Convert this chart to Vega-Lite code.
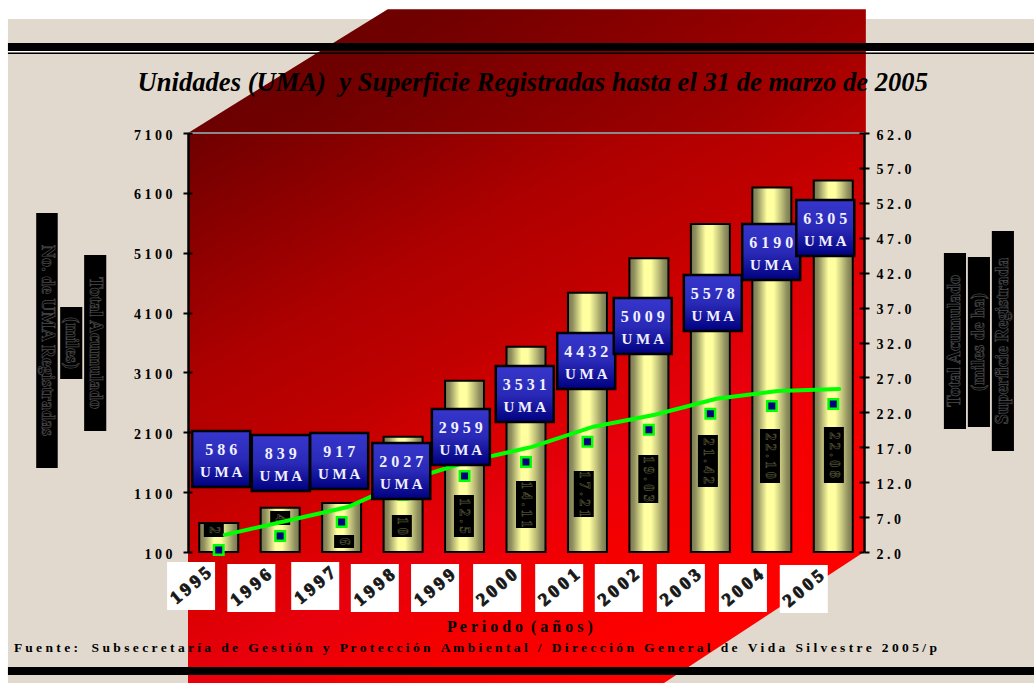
{"$schema":"https://vega.github.io/schema/vega-lite/v6.json","width":676,"height":419,"autosize":"none","padding":{"left":188,"top":133,"right":170,"bottom":131},"background":"white","config":{"view":{"stroke":null},"axis":{"grid":false,"title":null},"text":{"font":"Liberation Serif","fontWeight":"bold"}},
"datasets":{
"anual":[
{"anio":1995,"anio_t":"1\u20099\u20099\u20095","uma":586,"sup":2.3,"etq":"5 8 6","etq_x":1995.04,"etq_y":1654,"sup_t":"2","sup_x":1994.92,"sup_y0":584,"sup_y1":351,"sup_ym":468,"anio_x":1994.55,"anio_y":-468},
{"anio":1996,"anio_t":"1\u20099\u20099\u20096","uma":839,"sup":4.3,"etq":"8 3 9","etq_x":1996.01,"etq_y":1587,"sup_t":"4","sup_x":1996.0,"sup_y0":785,"sup_y1":551,"sup_ym":668,"anio_x":1995.53,"anio_y":-501},
{"anio":1997,"anio_t":"1\u20099\u20099\u20097","uma":917,"sup":6.3,"etq":"9 1 7","etq_x":1996.96,"etq_y":1620,"sup_t":"6","sup_x":1997.04,"sup_y0":384,"sup_y1":167,"sup_ym":276,"anio_x":1996.57,"anio_y":-468},
{"anio":1998,"anio_t":"1\u20099\u20099\u20098","uma":2027,"sup":10.2,"etq":"2 0 2 7","etq_x":1997.97,"etq_y":1453,"sup_t":"1 0","sup_x":1997.98,"sup_y0":718,"sup_y1":351,"sup_ym":534,"anio_x":1997.54,"anio_y":-501},
{"anio":1999,"anio_t":"1\u20099\u20099\u20099","uma":2959,"sup":12.9,"etq":"2 9 5 9","etq_x":1998.94,"etq_y":2021,"sup_t":"1 2 . 5","sup_x":1998.99,"sup_y0":1052,"sup_y1":351,"sup_ym":701,"anio_x":1998.52,"anio_y":-501},
{"anio":2000,"anio_t":"2\u20090\u20090\u20090","uma":3531,"sup":14.9,"etq":"3 5 3 1","etq_x":1999.98,"etq_y":2740,"sup_t":"1 4 . 1 1","sup_x":2000.0,"sup_y0":1286,"sup_y1":501,"sup_ym":893,"anio_x":1999.53,"anio_y":-501},
{"anio":2001,"anio_t":"2\u20090\u20090\u20091","uma":4432,"sup":17.8,"etq":"4 4 3 2","etq_x":2000.98,"etq_y":3291,"sup_t":"1 7 . 2 1","sup_x":2000.94,"sup_y0":1453,"sup_y1":685,"sup_ym":1069,"anio_x":2000.54,"anio_y":-501},
{"anio":2002,"anio_t":"2\u20090\u20090\u20092","uma":5009,"sup":19.5,"etq":"5 0 0 9","etq_x":2001.9,"etq_y":3876,"sup_t":"1 9 . 0 3","sup_x":2001.99,"sup_y0":1720,"sup_y1":919,"sup_ym":1320,"anio_x":2001.51,"anio_y":-501},
{"anio":2003,"anio_t":"2\u20090\u20090\u20093","uma":5578,"sup":21.8,"etq":"5 5 7 8","etq_x":2003.04,"etq_y":4260,"sup_t":"2 1 . 4 2","sup_x":2002.96,"sup_y0":2055,"sup_y1":1186,"sup_ym":1620,"anio_x":2002.52,"anio_y":-501},
{"anio":2004,"anio_t":"2\u20090\u20090\u20094","uma":6190,"sup":22.9,"etq":"6 1 9 0","etq_x":2003.99,"etq_y":5112,"sup_t":"2 2 . 1 0","sup_x":2003.97,"sup_y0":2155,"sup_y1":1253,"sup_ym":1704,"anio_x":2003.53,"anio_y":-501},
{"anio":2005,"anio_t":"2\u20090\u20090\u20095","uma":6305,"sup":23.2,"etq":"6 3 0 5","etq_x":2004.87,"etq_y":5513,"sup_t":"2 2 . 0 8","sup_x":2005.01,"sup_y0":2188,"sup_y1":1253,"sup_ym":1720,"anio_x":2004.52,"anio_y":-518}
],
"titulos":[
{"t":"No. de UMA Registradas","lado":"izq","x0":1992.03,"x1":1992.38,"xm":1992.205,"y0":5763,"y1":1503,"ym":3633},
{"t":"(miles)","lado":"izq","x0":1992.42,"x1":1992.78,"xm":1992.6,"y0":4193,"y1":2990,"ym":3591},
{"t":"Total Acumulado","lado":"izq","x0":1992.81,"x1":1993.17,"xm":1992.99,"y0":5062,"y1":2121,"ym":3591},
{"t":"Total Acumulado","lado":"der","x0":2006.8,"x1":2007.16,"xm":2006.98,"y0":5095,"y1":2155,"ym":3625},
{"t":"(miles de ha)","lado":"der","x0":2007.19,"x1":2007.55,"xm":2007.37,"y0":5028,"y1":2188,"ym":3608},
{"t":"Superficie Registrada","lado":"der","x0":2007.58,"x1":2007.94,"xm":2007.76,"y0":5463,"y1":1787,"ym":3625}
]},
"layer":[
{"data":{"values":[{"x0":1991.57,"x1":2008.3,"y0":9004,"y1":-2200}]},"mark":{"type":"rect","color":"#e1d9cd"},
"encoding":{"x":{"field":"x0","type":"quantitative","axis":null,"scale":{"domain":[1994.5,2005.5],"nice":false,"zero":false}},"x2":{"field":"x1"},"y":{"field":"y0","type":"quantitative","axis":null,"scale":{"domain":[100,7100],"nice":false,"zero":false}},"y2":{"field":"y1"}}},
{"data":{"values":[{"x0":1991.57,"x1":2008.3,"y0":8470,"y1":8445}]},"mark":{"type":"rect","color":"#ffffff"},
"encoding":{"x":{"field":"x0","type":"quantitative","axis":null,"scale":{"domain":[1994.5,2005.5],"nice":false,"zero":false}},"x2":{"field":"x1"},"y":{"field":"y0","type":"quantitative","axis":null,"scale":{"domain":[100,7100],"nice":false,"zero":false}},"y2":{"field":"y1"}}},
{"data":{"values":[{"x":1994.5,"top":7100,"base":7100},{"x":1997.75,"top":9168,"base":7100},{"x":2005.53,"top":9168,"base":7100}]},
"mark":{"type":"area","orient":"vertical","line":false,"color":{"gradient":"linear","x1":0,"y1":0,"x2":1.18,"y2":0.29,"stops":[{"offset":0,"color":"#640000"},{"offset":0.3,"color":"#700000"},{"offset":0.8,"color":"#9f0000"},{"offset":1,"color":"#bb0000"}]}},
"encoding":{"x":{"field":"x","type":"quantitative","axis":null,"scale":{"domain":[1994.5,2005.5],"nice":false,"zero":false}},"y":{"field":"top","type":"quantitative","axis":null,"scale":{"domain":[100,7100],"nice":false,"zero":false}},"y2":{"field":"base"}}},
{"data":{"values":[{"x":1994.5,"top":7100,"base":-2200},{"x":2002.08,"top":7100,"base":-2200},{"x":2005.5,"top":7100,"base":100}]},
"mark":{"type":"area","orient":"vertical","line":false,"color":{"gradient":"linear","x1":0,"y1":0,"x2":0.77,"y2":1.15,"stops":[{"offset":0,"color":"#6e0000"},{"offset":0.27,"color":"#ae0000"},{"offset":0.4,"color":"#c00000"},{"offset":0.5,"color":"#d80000"},{"offset":0.6,"color":"#e8000c"},{"offset":0.7,"color":"#f40000"},{"offset":0.85,"color":"#ff0000"},{"offset":1,"color":"#ff0000"}]}},
"encoding":{"x":{"field":"x","type":"quantitative","axis":null,"scale":{"domain":[1994.5,2005.5],"nice":false,"zero":false}},"y":{"field":"top","type":"quantitative","axis":null,"scale":{"domain":[100,7100],"nice":false,"zero":false}},"y2":{"field":"base"}}},
{"data":{"values":[{"x0":1991.57,"x1":2008.3,"y0":8603,"y1":8470},{"x0":1991.57,"x1":2008.3,"y0":8445,"y1":8420},{"x0":1991.57,"x1":2008.3,"y0":-1821,"y1":-1955}]},"mark":{"type":"rect","color":"#000000"},
"encoding":{"x":{"field":"x0","type":"quantitative","axis":null,"scale":{"domain":[1994.5,2005.5],"nice":false,"zero":false}},"x2":{"field":"x1"},"y":{"field":"y0","type":"quantitative","axis":null,"scale":{"domain":[100,7100],"nice":false,"zero":false}},"y2":{"field":"y1"}}},
{"data":{"values":[{"x0":1994.5,"x1":2005.5,"y":7100}]},"mark":{"type":"rule","color":"#8a8a8a","strokeWidth":2},
"encoding":{"x":{"field":"x0","type":"quantitative","axis":null,"scale":{"domain":[1994.5,2005.5],"nice":false,"zero":false}},"x2":{"field":"x1"},"y":{"field":"y","type":"quantitative","axis":null,"scale":{"domain":[100,7100],"nice":false,"zero":false}}}},
{"data":{"name":"anual"},"mark":{"type":"bar","orient":"vertical","width":39,"stroke":"#000000","strokeWidth":2,"color":{"gradient":"linear","x1":0,"y1":0,"x2":1,"y2":0,"stops":[{"offset":0,"color":"#77774f"},{"offset":0.12,"color":"#8f8f5f"},{"offset":0.25,"color":"#c8c87f"},{"offset":0.38,"color":"#ffffa0"},{"offset":0.55,"color":"#ffffa0"},{"offset":0.72,"color":"#c8c87f"},{"offset":0.88,"color":"#8f8f5f"},{"offset":1,"color":"#77774f"}]}},
"encoding":{"x":{"field":"anio","type":"quantitative","scale":{"domain":[1994.5,2005.5],"nice":false,"zero":false,"padding":0},"axis":{"orient":"bottom","values":[1995.5,1996.5,1997.5,1998.5,1999.5,2000.5,2001.5,2002.5,2003.5,2004.5],"labels":false,"domain":true,"domainColor":"#000000","domainWidth":2.5,"ticks":true,"tickColor":"#000000","tickWidth":2,"tickSize":-6,"zindex":1}},"y":{"field":"uma","type":"quantitative","scale":{"domain":[100,7100],"nice":false,"zero":false},"axis":{"orient":"left","values":[100,1100,2100,3100,4100,5100,6100,7100],"labelExpr":"join(split(datum.label,''),' ')","format":"d","labelFont":"Liberation Serif","labelFontWeight":"bold","labelFontSize":14,"labelColor":"#000000","labelPadding":11,"labelOffset":2,"domainColor":"#000000","domainWidth":2.5,"tickColor":"#000000","tickWidth":2,"tickSize":5,"zindex":1}},"y2":{"datum":100}}},
{"data":{"name":"anual"},"mark":{"type":"rect","color":"#000000","width":20},
"encoding":{"x":{"field":"sup_x","type":"quantitative","axis":null,"scale":{"domain":[1994.5,2005.5],"nice":false,"zero":false}},"y":{"field":"sup_y0","type":"quantitative","axis":null,"scale":{"domain":[100,7100],"nice":false,"zero":false}},"y2":{"field":"sup_y1"}}},
{"data":{"name":"anual"},"mark":{"type":"text","angle":90,"fontSize":14,"fill":"#000000","stroke":"#4f4f30","strokeWidth":0.7,"align":"center","baseline":"middle"},
"encoding":{"x":{"field":"sup_x","type":"quantitative","axis":null,"scale":{"domain":[1994.5,2005.5],"nice":false,"zero":false}},"y":{"field":"sup_ym","type":"quantitative","axis":null,"scale":{"domain":[100,7100],"nice":false,"zero":false}},"text":{"field":"sup_t"}}},
{"data":{"name":"anual"},"mark":{"type":"line","color":"#00ff00","strokeWidth":4,"strokeCap":"round","xOffset":6,"yOffset":-15},
"encoding":{"x":{"field":"anio","type":"quantitative","axis":null,"scale":{"domain":[1994.5,2005.5],"nice":false,"zero":false}},"y":{"field":"sup","type":"quantitative","axis":null,"scale":{"domain":[2,62],"nice":false,"zero":false}}}},
{"data":{"name":"anual"},"mark":{"type":"square","size":90,"fill":"#000080","stroke":"#00ff00","strokeWidth":2.5,"opacity":1},
"encoding":{"x":{"field":"anio","type":"quantitative","axis":null,"scale":{"domain":[1994.5,2005.5],"nice":false,"zero":false}},"y":{"field":"sup","type":"quantitative","scale":{"domain":[2,62],"nice":false,"zero":false},"axis":{"orient":"right","values":[2,7,12,17,22,27,32,37,42,47,52,57,62],"format":".1f","labelExpr":"join(split(datum.label,''),' ')","labelFont":"Liberation Serif","labelFontWeight":"bold","labelFontSize":14,"labelColor":"#000000","labelPadding":7,"labelOffset":2,"domainColor":"#000000","domainWidth":2.5,"tickColor":"#000000","tickWidth":2,"tickSize":5,"zindex":1}}}},
{"data":{"name":"anual"},"mark":{"type":"rule","opacity":0},
"encoding":{"y":{"field":"uma","type":"quantitative","scale":{"domain":[100,7100],"nice":false,"zero":false},"axis":{"orient":"left","values":[100,1100,2100,3100,4100,5100,6100,7100],"labels":false,"domain":false,"tickColor":"#000000","tickWidth":2,"tickSize":-4,"zindex":1}}}},
{"data":{"name":"anual"},"mark":{"type":"rule","opacity":0},
"encoding":{"y":{"field":"sup","type":"quantitative","scale":{"domain":[2,62],"nice":false,"zero":false},"axis":{"orient":"right","values":[2,7,12,17,22,27,32,37,42,47,52,57,62],"labels":false,"domain":false,"tickColor":"#000000","tickWidth":2,"tickSize":-5,"zindex":1}}}},
{"data":{"name":"anual"},"mark":{"type":"rect","width":58,"height":56,"stroke":"#000000","strokeWidth":2.5,"color":{"gradient":"linear","x1":0,"y1":0,"x2":0,"y2":1,"stops":[{"offset":0,"color":"#3636cc"},{"offset":0.5,"color":"#2a2ab8"},{"offset":1,"color":"#000080"}]}},
"encoding":{"x":{"field":"etq_x","type":"quantitative","axis":null,"scale":{"domain":[1994.5,2005.5],"nice":false,"zero":false}},"y":{"field":"etq_y","type":"quantitative","axis":null,"scale":{"domain":[100,7100],"nice":false,"zero":false}}}},
{"data":{"name":"anual"},"mark":{"type":"text","fontSize":16,"color":"#f0f0ff","align":"center","baseline":"middle","yOffset":-9},
"encoding":{"x":{"field":"etq_x","type":"quantitative","axis":null,"scale":{"domain":[1994.5,2005.5],"nice":false,"zero":false}},"y":{"field":"etq_y","type":"quantitative","axis":null,"scale":{"domain":[100,7100],"nice":false,"zero":false}},"text":{"field":"etq"}}},
{"data":{"name":"anual"},"mark":{"type":"text","fontSize":15,"color":"#f0f0ff","align":"center","baseline":"middle","yOffset":13},
"encoding":{"x":{"field":"etq_x","type":"quantitative","axis":null,"scale":{"domain":[1994.5,2005.5],"nice":false,"zero":false}},"y":{"field":"etq_y","type":"quantitative","axis":null,"scale":{"domain":[100,7100],"nice":false,"zero":false}},"text":{"value":"U M A"}}},
{"data":{"name":"anual"},"mark":{"type":"rect","width":48,"height":48,"color":"#ffffff"},
"encoding":{"x":{"field":"anio_x","type":"quantitative","axis":null,"scale":{"domain":[1994.5,2005.5],"nice":false,"zero":false}},"y":{"field":"anio_y","type":"quantitative","axis":null,"scale":{"domain":[100,7100],"nice":false,"zero":false}}}},
{"data":{"name":"anual"},"mark":{"type":"text","angle":-40,"fontSize":18,"color":"#111111","stroke":"#222222","strokeWidth":1,"align":"center","baseline":"middle"},
"encoding":{"x":{"field":"anio_x","type":"quantitative","axis":null,"scale":{"domain":[1994.5,2005.5],"nice":false,"zero":false}},"y":{"field":"anio_y","type":"quantitative","axis":null,"scale":{"domain":[100,7100],"nice":false,"zero":false}},"text":{"field":"anio_t"}}},
{"data":{"name":"titulos"},"mark":{"type":"rect","color":"#000000"},
"encoding":{"x":{"field":"x0","type":"quantitative","axis":null,"scale":{"domain":[1994.5,2005.5],"nice":false,"zero":false}},"x2":{"field":"x1"},"y":{"field":"y0","type":"quantitative","axis":null,"scale":{"domain":[100,7100],"nice":false,"zero":false}},"y2":{"field":"y1"}}},
{"data":{"name":"titulos"},"transform":[{"filter":"datum.lado == 'izq'"}],"mark":{"type":"text","angle":90,"fontSize":18,"fill":"#000000","stroke":"#4c4c4c","strokeWidth":0.7,"align":"center","baseline":"middle"},
"encoding":{"x":{"field":"xm","type":"quantitative","axis":null,"scale":{"domain":[1994.5,2005.5],"nice":false,"zero":false}},"y":{"field":"ym","type":"quantitative","axis":null,"scale":{"domain":[100,7100],"nice":false,"zero":false}},"text":{"field":"t"}}},
{"data":{"name":"titulos"},"transform":[{"filter":"datum.lado == 'der'"}],"mark":{"type":"text","angle":270,"fontSize":18,"fill":"#000000","stroke":"#4c4c4c","strokeWidth":0.7,"align":"center","baseline":"middle"},
"encoding":{"x":{"field":"xm","type":"quantitative","axis":null,"scale":{"domain":[1994.5,2005.5],"nice":false,"zero":false}},"y":{"field":"ym","type":"quantitative","axis":null,"scale":{"domain":[100,7100],"nice":false,"zero":false}},"text":{"field":"t"}}},
{"data":{"values":[{"t":"Unidades (UMA)\u00a0\u00a0y Superficie Registradas hasta el 31 de marzo de 2005","x":2000.11,"y":7935}]},"mark":{"type":"text","fontSize":26.6,"fontStyle":"italic","color":"#000000","align":"center","baseline":"middle"},
"encoding":{"x":{"field":"x","type":"quantitative","axis":null,"scale":{"domain":[1994.5,2005.5],"nice":false,"zero":false}},"y":{"field":"y","type":"quantitative","axis":null,"scale":{"domain":[100,7100],"nice":false,"zero":false}},"text":{"field":"t"}}},
{"data":{"values":[{"t":"P e r i o d o \u00a0( a ñ o s )","x":1999.9,"y":-1153}]},"mark":{"type":"text","fontSize":16,"color":"#000000","align":"center","baseline":"middle"},
"encoding":{"x":{"field":"x","type":"quantitative","axis":null,"scale":{"domain":[1994.5,2005.5],"nice":false,"zero":false}},"y":{"field":"y","type":"quantitative","axis":null,"scale":{"domain":[100,7100],"nice":false,"zero":false}},"text":{"field":"t"}}},
{"data":{"values":[{"t":"F u e n t e :\u00a0\u00a0\u00a0\u00a0S u b s e c r e t a r í a\u00a0\u00a0\u00a0d e\u00a0\u00a0\u00a0G e s t i ó n\u00a0\u00a0\u00a0y\u00a0\u00a0\u00a0P r o t e c c i ó n\u00a0\u00a0\u00a0A m b i e n t a l\u00a0\u00a0\u00a0/\u00a0\u00a0\u00a0D i r e c c i ó n\u00a0\u00a0\u00a0G e n e r a l\u00a0\u00a0\u00a0d e\u00a0\u00a0\u00a0V i d a\u00a0\u00a0\u00a0S i l v e s t r e\u00a0\u00a0\u00a02 0 0 5 / p","x":1991.67,"y":-1504}]},"mark":{"type":"text","fontSize":13.5,"color":"#000000","align":"left","baseline":"middle"},
"encoding":{"x":{"field":"x","type":"quantitative","axis":null,"scale":{"domain":[1994.5,2005.5],"nice":false,"zero":false}},"y":{"field":"y","type":"quantitative","axis":null,"scale":{"domain":[100,7100],"nice":false,"zero":false}},"text":{"field":"t"}}}
],
"resolve":{"scale":{"y":"independent"},"axis":{"y":"independent"}}}
